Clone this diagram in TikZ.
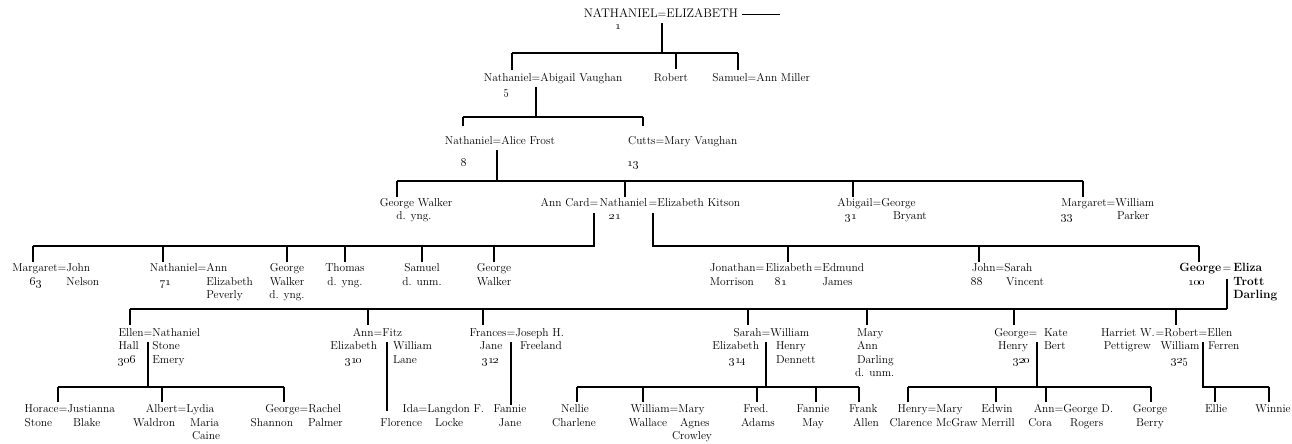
\documentclass[tikz,border=0pt]{standalone}
\usetikzlibrary{calc}
\newcommand{\osn}[1]{\oldstylenums{#1}}
\begin{document}
\begin{tikzpicture}[x=1bp,y=-1bp,
  every node/.style={inner sep=0pt, outer sep=0pt, font=\fontsize{11.5}{13.5}\selectfont},
  L/.style={anchor=base west}, C/.style={anchor=base}, R/.style={anchor=base east},
  eq/.style={anchor=base},
  caps/.style={font=\fontsize{12.5}{14}\selectfont},
  bd/.style={font=\fontsize{12}{14}\selectfont\bfseries},
  ln/.style={line width=1.2bp},
]
\useasboundingbox[fill=white] (0,0) rectangle (1292,444);
\newcommand{\famdrop}[3][3bp]{\draw[ln,shorten >=#1] (#2) -- (#2 |- #3.north);}
\newcommand{\famdown}[2]{\draw[ln,shorten <=5bp] (#1.south) -- (#1.south |- #2);}

% ---------- generation 1 ----------
\node[eq] (e0) at (662,18) {=};
\node[R,caps] (natI) at (e0.base west) {NATHANIEL};
\node[L,caps] (elizI) at (e0.base east) {ELIZABETH};
\node[L] (dashI) at ([xshift=4bp]elizI.base east) {\rule[3.3bp]{38bp}{0.9bp}};
\node[C] (n1) at (618,30) {\osn{1}};

% ---------- generation 2 ----------
\node[eq] (e5) at (536,82) {=};
\node[R] (nat5) at (e5.base west) {Nathaniel};
\node[L] (abig) at (e5.base east) {Abigail Vaughan};
\node[C] (n5) at (506,95) {\osn{5}};
\node[C] (rob) at (671,82) {Robert};
\node[eq] (eSam) at (752,82) {=};
\node[R] (sam) at (eSam.base west) {Samuel};
\node[L] (annM) at (eSam.base east) {Ann Miller};

\coordinate (bus1) at (661,53);
\coordinate (d-nat5) at (512,53);
\coordinate (d-rob) at (676,53);
\coordinate (d-sam) at (738,53);
\famdown{e0}{bus1}
\draw[ln] (d-nat5) -- (d-sam);
\famdrop[4bp]{d-nat5}{nat5}
\famdrop[5bp]{d-rob}{rob}
\famdrop[4bp]{d-sam}{sam}

% ---------- generation 3 ----------
\node[eq] (e8) at (497,145) {=};
\node[R] (nat8) at (e8.base west) {Nathaniel};
\node[L] (alice) at (e8.base east) {Alice Frost};
\node[C] (n8) at (464,167) {\osn{8}};
\node[eq] (eCut) at (660,145) {=};
\node[R] (cutts) at (eCut.base west) {Cutts};
\node[L] (maryV) at (eCut.base east) {Mary Vaughan};
\node[C] (n13) at (633,167) {\osn{13}};

\coordinate (bus2) at (537,117);
\coordinate (d-nat8) at (463,117);
\coordinate (d-cutts) at (643,117);
\famdown{e5}{bus2}
\draw[ln] (d-nat8) -- (d-cutts);
\famdrop[11bp]{d-nat8}{nat8}
\famdrop[11bp]{d-cutts}{cutts}

% ---------- generation 4 ----------
\node[C] (gw1) at (416,207) {George Walker};
\node[C] (gw1b) at (414,220) {d. yng.};
\node[eq] (eA) at (594,207) {=};
\node[eq] (eB) at (653,207) {=};
\node[R] (annC) at (eA.base west) {Ann Card};
\node[C] (nat21) at ($(eA.base)!0.5!(eB.base)$) {Nathaniel};
\node[L] (elizK) at (eB.base east) {Elizabeth Kitson};
\node[C] (n21) at (615,220) {\osn{21}};
\node[eq] (eAb) at (877,207) {=};
\node[R] (abig31) at (eAb.base west) {Abigail};
\node[L] (geoB) at (eAb.base east) {George};
\node[C] (n31) at (851,220) {\osn{31}};
\node[L] (bry) at (893,220) {Bryant};
\node[eq] (eMa) at (1111,207) {=};
\node[R] (marg33) at (eMa.base west) {Margaret};
\node[L] (willP) at (eMa.base east) {William};
\node[C] (n33) at (1067,220) {\osn{33}};
\node[L] (park) at (1117,220) {Parker};

\coordinate (bus3) at (497,181);
\coordinate (d-gw1) at (397,181);
\coordinate (d-nat21) at (625,181);
\coordinate (d-abig31) at (853,181);
\coordinate (d-marg33) at (1083,181);
\famdown{e8}{bus3}
\draw[ln] (d-gw1) -- (d-marg33);
\famdrop[2bp]{d-gw1}{gw1}
\famdrop[2bp]{d-nat21}{nat21}
\famdrop[2bp]{d-abig31}{abig31}
\famdrop[2bp]{d-marg33}{marg33}

% ---------- generation 5 ----------
\node[eq] (eM63) at (62,272) {=};
\node[R] (marg63) at (eM63.base west) {Margaret};
\node[L] (john63) at (eM63.base east) {John};
\node[C] (n63) at (36,285.5) {\osn{63}};
\node[L] (nelson) at (john63.base west |- 0,285.5) {Nelson};

\node[eq] (eN71) at (202,272) {=};
\node[R] (nat71) at (eN71.base west) {Nathaniel};
\node[L] (ann71) at (eN71.base east) {Ann};
\node[C] (n71) at (165,285.5) {\osn{71}};
\node[L] (eliz71) at (ann71.base west |- 0,285.5) {Elizabeth};
\node[L] (pev71) at (ann71.base west |- 0,299) {Peverly};

\node[C] (gw2) at (287,272) {George};
\node[C] (gw2b) at (287,285.5) {Walker};
\node[C] (gw2c) at (287,299) {d. yng.};
\node[C] (thom) at (345,272) {Thomas};
\node[C] (thomb) at (345,285.5) {d. yng.};
\node[C] (samU) at (422,272) {Samuel};
\node[C] (samUb) at (422,285.5) {d. unm.};
\node[C] (gw3) at (494,272) {George};
\node[C] (gw3b) at (494,285.5) {Walker};

\node[eq] (eJ1) at (760,272) {=};
\node[eq] (eJ2) at (818,272) {=};
\node[R] (jon) at (eJ1.base west) {Jonathan};
\node[C] (eliz81) at ($(eJ1.base)!0.5!(eJ2.base)$) {Elizabeth};
\node[L] (edm) at (eJ2.base east) {Edmund};
\node[L] (morr) at (jon.base west |- 0,285.5) {Morrison};
\node[C] (n81) at (781,285.5) {\osn{81}};
\node[L] (james) at (edm.base west |- 0,285.5) {James};

\node[eq] (eJS) at (1000,272) {=};
\node[R] (john88) at (eJS.base west) {John};
\node[L] (sarahV) at (eJS.base east) {Sarah};
\node[C] (n88) at (977,285.5) {\osn{88}};
\node[L] (vinc) at (1006,285.5) {Vincent};

\node[eq] (eGE) at (1227,272) {=};
\node[R,bd] (geo100) at ([xshift=-1.5bp]eGE.base west) {George};
\node[L,bd] (eliza) at ([xshift=2bp]eGE.base east) {Eliza};
\node[C] (n100) at (1197,285.5) {\osn{100}};
\node[L,bd] (trott) at (eliza.base west |- 0,285.5) {Trott};
\node[L,bd] (darl) at (eliza.base west |- 0,299) {Darling};

\coordinate (bus4L) at (594,246);
\coordinate (bus4R) at (653,246);
\coordinate (d-marg63) at (33,246);
\coordinate (d-nat71) at (163,246);
\coordinate (d-gw2) at (287,246);
\coordinate (d-thom) at (345,246);
\coordinate (d-samU) at (422,246);
\coordinate (d-gw3) at (494,246);
\coordinate (d-eliz81) at (788,246);
\coordinate (d-john88) at (979,246);
\coordinate (d-geo100) at (1199,246);
\draw[ln,shorten <=6bp] (eA.south) -- (eA.south |- bus4L) -- (d-marg63);
\draw[ln,shorten <=6bp] (eB.south) -- (eB.south |- bus4R) -- (d-geo100);
\famdrop[2bp]{d-marg63}{marg63}
\famdrop[2bp]{d-nat71}{nat71}
\famdrop[2bp]{d-gw2}{gw2}
\famdrop[2bp]{d-thom}{thom}
\famdrop[2bp]{d-samU}{samU}
\famdrop[2bp]{d-gw3}{gw3}
\famdrop[2bp]{d-eliz81}{eliz81}
\famdrop[2bp]{d-john88}{john88}
\famdrop[2bp]{d-geo100}{geo100}

% ---------- generation 6 ----------
\node[eq] (eEl) at (148,337) {=};
\node[R] (ellen) at (eEl.base west) {Ellen};
\node[L] (natS) at (eEl.base east) {Nathaniel};
\node[L] (hall) at (ellen.base west |- 0,350) {Hall};
\node[L] (n306) at (ellen.base west |- 0,363.5) {\osn{306}};
\node[L] (stone) at (natS.base west |- 0,350) {Stone};
\node[L] (emery) at (natS.base west |- 0,363.5) {Emery};

\node[eq] (eAF) at (378,337) {=};
\node[R] (annE) at (eAF.base west) {Ann};
\node[L] (fitz) at (eAF.base east) {Fitz};
\node[R] (elizE) at (377,350) {Elizabeth};
\node[L] (willL) at (393,350) {William};
\node[C] (n310) at (354,363.5) {\osn{310}};
\node[L] (lane) at (393,363.5) {Lane};

\node[eq] (eFr) at (511,337) {=};
\node[R] (fran) at (eFr.base west) {Frances};
\node[L] (jos) at (eFr.base east) {Joseph H.};
\node[C] (janeF) at (491,350) {Jane};
\node[C] (n312) at (491,363.5) {\osn{312}};
\node[L] (freel) at (520,350) {Freeland};

\node[eq] (eSW) at (766,337) {=};
\node[R] (sarahE) at (eSW.base west) {Sarah};
\node[L] (willH) at (eSW.base east) {William};
\node[R] (elizS) at (759,350) {Elizabeth};
\node[L] (henry) at (776,350) {Henry};
\node[C] (n314) at (738,363.5) {\osn{314}};
\node[L] (denn) at (776,363.5) {Dennett};

\node[L] (maryA) at (857,337) {Mary};
\node[L] (annA) at (857,350) {Ann};
\node[L] (darlA) at (857,363.5) {Darling};
\node[L] (dunmA) at (855,377) {d. unm.};

\node[eq] (eGK) at (1033,337) {=};
\node[R] (geoH) at (eGK.base west) {George};
\node[L] (kate) at (1044,337) {Kate};
\node[R] (henryG) at (1028,350) {Henry};
\node[L] (bert) at (1044,350) {Bert};
\node[C] (n320) at (1022,363.5) {\osn{320}};

\node[eq] (eHR) at (1160,337) {=};
\node[eq] (eRE) at (1203,337) {=};
\node[R] (harr) at ([xshift=-1bp]eHR.base west) {Harriet W.};
\node[C] (robW) at ($(eHR.base)!0.5!(eRE.base)$) {Robert};
\node[L] (ellenF) at (eRE.base east) {Ellen};
\node[R] (pett) at (1151,350) {Pettigrew};
\node[C] (willR) at (1180,350) {William};
\node[L] (ferr) at (1208,350) {Ferren};
\node[C] (n325) at (1180,363.5) {\osn{325}};

\coordinate (bus5) at (1227,309);
\coordinate (d-ellen) at (130,309);
\coordinate (d-annE) at (368,309);
\coordinate (d-fran) at (483,309);
\coordinate (d-sarahE) at (748,309);
\coordinate (d-maryA) at (867,309);
\coordinate (d-geoH) at (1014,309);
\coordinate (d-robW) at (1176,309);
\draw[ln,shorten <=7bp] (eGE.south) -- (bus5);
\draw[ln] (bus5) -- (d-ellen);
\famdrop[4bp]{d-ellen}{ellen}
\famdrop[4bp]{d-annE}{annE}
\famdrop[4bp]{d-fran}{fran}
\famdrop[4bp]{d-sarahE}{sarahE}
\famdrop[4bp]{d-maryA}{maryA}
\famdrop[4bp]{d-geoH}{geoH}
\famdrop[4bp]{d-robW}{robW}

% ---------- generation 7 ----------
\node[eq] (eHJ) at (63,413) {=};
\node[R] (hor) at (eHJ.base west) {Horace};
\node[L] (just) at (eHJ.base east) {Justianna};
\node[L] (stoneH) at (hor.base west |- 0,426.5) {Stone};
\node[L] (blake) at (73,426.5) {Blake};

\node[eq] (eAL) at (182,413) {=};
\node[R] (alb) at (eAL.base west) {Albert};
\node[L] (lyd) at (eAL.base east) {Lydia};
\node[R] (wald) at (175,426.5) {Waldron};
\node[L] (maria) at (190,426.5) {Maria};
\node[L] (caine) at (192,440) {Caine};

\node[eq] (eGR) at (304,413) {=};
\node[R] (geoS) at (eGR.base west) {George};
\node[L] (rach) at (eGR.base east) {Rachel};
\node[R] (shan) at (293,426.5) {Shannon};
\node[L] (palm) at (308,426.5) {Palmer};

\node[eq] (eIda) at (423,413) {=};
\node[R] (ida) at (eIda.base west) {Ida};
\node[L] (lang) at (eIda.base east) {Langdon F.};
\node[R] (flor) at (422,426.5) {Florence};
\node[L] (locke) at (435,426.5) {Locke};

\node[C] (fannJ) at (510,413) {Fannie};
\node[C] (fannJb) at (510,426.5) {Jane};

\node[C] (nell) at (575,413) {Nellie};
\node[C] (nellb) at (574,426.5) {Charlene};
\node[eq] (eWM) at (674,413) {=};
\node[R] (willW) at (eWM.base west) {William};
\node[L] (maryC) at (eWM.base east) {Mary};
\node[R] (wall) at (667,426.5) {Wallace};
\node[L] (agnes) at (680,426.5) {Agnes};
\node[L] (crow) at (672,440) {Crowley};
\node[C] (fred) at (756,413) {Fred.};
\node[C] (fredb) at (758,426.5) {Adams};
\node[C] (fannM) at (813,413) {Fannie};
\node[C] (fannMb) at (813,426.5) {May};
\node[L] (frank) at (849,413) {Frank};
\node[L] (frankb) at (853,426.5) {Allen};

\node[eq] (eHM) at (932,413) {=};
\node[R] (henC) at (eHM.base west) {Henry};
\node[L] (marMc) at (eHM.base east) {Mary};
\node[R] (clar) at (932,426.5) {Clarence};
\node[L] (mcg) at (936,426.5) {McGraw};
\node[C] (edw) at (997,413) {Edwin};
\node[C] (edwb) at (998,426.5) {Merrill};
\node[eq] (eAG) at (1059,413) {=};
\node[R] (annR) at (eAG.base west) {Ann};
\node[L] (geoD) at (eAG.base east) {George D.};
\node[R] (cora) at (1052,426.5) {Cora};
\node[L] (rog) at (1070,426.5) {Rogers};
\node[C] (geoBe) at (1150,413) {George};
\node[C] (geoBeb) at (1150,426.5) {Berry};

\node[C] (ellie) at (1216,413) {Ellie};
\node[C] (winn) at (1273,413) {Winnie};

% Ellen and Nathaniel's children
\coordinate (d-hor) at (58,387);
\coordinate (d-alb) at (162,387);
\coordinate (d-geoS) at (284,387);
\draw[ln,shorten <=5bp] (eEl.south) -- (eEl.south |- d-hor);
\draw[ln] (d-hor) -- (d-geoS);
\famdrop{d-hor}{hor}
\famdrop{d-alb}{alb}
\famdrop{d-geoS}{geoS}

% Ann and Fitz William Lane
\coordinate (vAF) at (387,342);
\draw[ln,shorten >=8bp] (vAF) -- (vAF |- flor.north);

% Frances and Joseph H. Freeland
\famdown{eFr}{fannJ.north}

% Sarah and William Henry Dennett's children
\coordinate (d-nell) at (577,387);
\coordinate (d-willW) at (643,387);
\coordinate (d-fred) at (757,387);
\coordinate (d-fannM) at (816,387);
\coordinate (d-frank) at (859,387);
\famdown{eSW}{d-nell}
\draw[ln] (d-nell) -- (d-frank);
\famdrop{d-nell}{nell}
\famdrop{d-willW}{willW}
\famdrop{d-fred}{fred}
\famdrop{d-fannM}{fannM}
\famdrop{d-frank}{frank}

% George Henry and Kate Bert's children
\coordinate (vGK) at (1037,342);
\coordinate (d-henC) at (908,387);
\coordinate (d-edw) at (996,387);
\coordinate (d-annR) at (1046,387);
\coordinate (d-geoBe) at (1151,387);
\draw[ln] (vGK) -- (vGK |- d-henC);
\draw[ln] (d-henC) -- (d-geoBe);
\famdrop{d-henC}{henC}
\famdrop{d-edw}{edw}
\famdrop{d-annR}{annR}
\famdrop{d-geoBe}{geoBe}

% Robert William and Ellen Ferren's children
\coordinate (d-ellie) at (1215,387);
\coordinate (d-winn) at (1269,387);
\draw[ln,shorten <=5bp] (eRE.south) -- (eRE.south |- d-winn) -- (d-winn);
\famdrop{d-ellie}{ellie}
\famdrop{d-winn}{winn}
\end{tikzpicture}
\end{document}
